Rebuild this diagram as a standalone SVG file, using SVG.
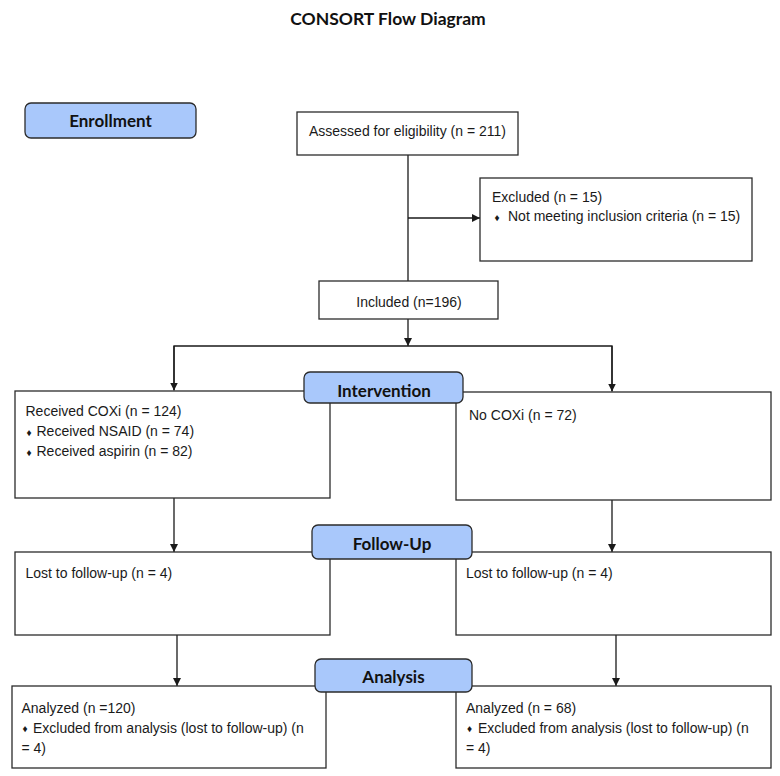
<svg xmlns="http://www.w3.org/2000/svg" width="780" height="776" viewBox="0 0 780 776">
<style>
.box{fill:#fff;stroke:#2b2b2b;stroke-width:1.3}
.lab{fill:#a9c8fb;stroke:#2b2b2b;stroke-width:1.3}
.t{font-family:"Liberation Sans",Arial,Helvetica,sans-serif;font-size:14px;fill:#1a1a1a}
.b{font-family:"Liberation Sans",Arial,sans-serif;font-size:10px;fill:#1a1a1a;text-anchor:middle}
.h{font-family:Lato,"Open Sans","Liberation Sans",sans-serif;font-weight:bold;font-size:17px;fill:#111;text-anchor:middle}
.c{fill:none;stroke:#1a1a1a;stroke-width:1.3}
</style>
<defs>
<marker id="ah" viewBox="0 0 10 10" refX="10" refY="5" markerWidth="8" markerHeight="8" markerUnits="userSpaceOnUse" orient="auto">
<path d="M0,0 L10,5 L0,10 z" fill="#1a1a1a"/>
</marker>
</defs>
<rect width="780" height="776" fill="#fff"/>
<text id="title" class="h" x="388" y="25" style="font-size:17.5px">CONSORT Flow Diagram</text>

<g id="connectors">
<path class="c" d="M408,155 V281"/>
<path class="c" d="M408,218 H480" marker-end="url(#ah)"/>
<path class="c" d="M408,319 V346" marker-end="url(#ah)"/>
<path class="c" d="M174,390 V346 H612 V391"/>
<path class="c" d="M174,346 V390.5" marker-end="url(#ah)"/>
<path class="c" d="M612,346 V391.5" marker-end="url(#ah)"/>
<path class="c" d="M174,498 V552" marker-end="url(#ah)"/>
<path class="c" d="M612,500 V552" marker-end="url(#ah)"/>
<path class="c" d="M177,635 V686" marker-end="url(#ah)"/>
<path class="c" d="M616,635 V686" marker-end="url(#ah)"/>
</g>

<g id="assessed">
<rect class="box" x="297" y="112" width="221" height="43"/>
<text class="t" x="309" y="136">Assessed for eligibility (n = 211)</text>
</g>
<g id="excluded">
<rect class="box" x="480" y="178" width="272" height="83"/>
<text class="t" x="492" y="201.5">Excluded (n = 15)</text>
<text class="b" x="497" y="220.5">♦</text>
<text class="t" x="508" y="221">Not meeting inclusion criteria (n = 15)</text>
</g>
<g id="included">
<rect class="box" x="319" y="281" width="179" height="38"/>
<text class="t" x="409" y="306.5" text-anchor="middle">Included (n=196)</text>
</g>
<g id="coxi">
<rect class="box" x="15" y="391" width="315" height="107"/>
<text class="t" x="25.5" y="416">Received COXi (n = 124)</text>
<text class="b" x="29" y="435.5">♦</text>
<text class="t" x="36.5" y="436">Received NSAID (n = 74)</text>
<text class="b" x="29" y="455.5">♦</text>
<text class="t" x="36.5" y="456">Received aspirin (n = 82)</text>
</g>
<g id="nocoxi">
<rect class="box" x="456" y="392" width="315" height="108"/>
<text class="t" x="469" y="420">No COXi (n = 72)</text>
</g>
<g id="lost-left">
<rect class="box" x="15" y="552" width="315" height="83"/>
<text class="t" x="25.5" y="578">Lost to follow-up (n = 4)</text>
</g>
<g id="lost-right">
<rect class="box" x="456" y="552" width="315" height="83"/>
<text class="t" x="466" y="578">Lost to follow-up (n = 4)</text>
</g>
<g id="analyzed-left">
<rect class="box" x="12" y="686" width="314" height="82"/>
<text class="t" x="21.5" y="712.5">Analyzed (n =120)</text>
<text class="b" x="25" y="732">♦</text>
<text class="t" x="33" y="732.5">Excluded from analysis (lost to follow-up) (n</text>
<text class="t" x="21.5" y="752.5">= 4)</text>
</g>
<g id="analyzed-right">
<rect class="box" x="456" y="686" width="315" height="82"/>
<text class="t" x="466" y="712.5">Analyzed (n = 68)</text>
<text class="b" x="469.5" y="732">♦</text>
<text class="t" x="478" y="732.5">Excluded from analysis (lost to follow-up) (n</text>
<text class="t" x="466" y="752.5">= 4)</text>
</g>

<g id="enrollment">
<rect class="lab" x="25" y="103" width="171" height="35" rx="6"/>
<text class="h" x="110.5" y="127">Enrollment</text>
</g>
<g id="intervention">
<rect class="lab" x="304" y="372" width="159" height="31" rx="6"/>
<text class="h" x="384" y="397">Intervention</text>
</g>
<g id="followup">
<rect class="lab" x="312" y="525" width="160" height="34" rx="6"/>
<text class="h" x="392" y="550">Follow-Up</text>
</g>
<g id="analysis">
<rect class="lab" x="315" y="659" width="157" height="33" rx="6"/>
<text class="h" x="393.5" y="683">Analysis</text>
</g>
</svg>
